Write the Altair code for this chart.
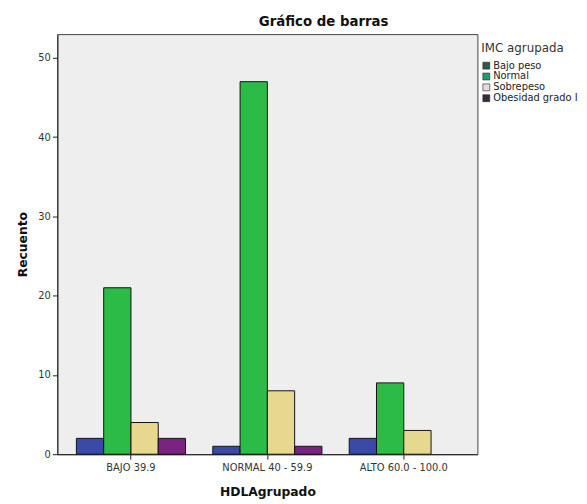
import altair as alt
import pandas as pd

groups = ["BAJO 39.9", "NORMAL 40 - 59.9", "ALTO 60.0 - 100.0"]
imc = ["Bajo peso", "Normal", "Sobrepeso", "Obesidad grado I"]
bajo_counts = [2, 21, 4, 2]
normal_counts = [1, 47, 8, 1]
alto_counts = [2, 9, 3, 0]
bar_colors = ["#3b4aa8", "#2dbb48", "#e6d98f", "#7a2383"]
legend_colors = ["#2f5a48", "#1aa070", "#e2dbe2", "#3a2a3a"]
y_ticks = [0, 10, 20, 30, 40, 50]

rows = []
for g, counts in zip(groups, [bajo_counts, normal_counts, alto_counts]):
    for cat, c in zip(imc, counts):
        if c > 0:
            rows.append({"HDL": g, "IMC": cat, "Recuento": c})
df = pd.DataFrame(rows)

FONT = "DejaVu Sans"

x_enc = alt.X(
    "HDL:N",
    sort=groups,
    scale=alt.Scale(domain=groups, paddingInner=0.2, paddingOuter=0.14),
    axis=alt.Axis(title="HDLAgrupado", labelAngle=0, labelPadding=4, titlePadding=13),
)
y_enc = alt.Y(
    "Recuento:Q",
    scale=alt.Scale(domain=[0, 53], nice=False),
    axis=alt.Axis(title="Recuento", values=y_ticks, labelPadding=2, titlePadding=9),
)

bars = alt.Chart(df).mark_bar(stroke="#111", strokeWidth=1).encode(
    x=x_enc,
    xOffset=alt.XOffset("IMC:N", sort=imc,
                        scale=alt.Scale(domain=imc, paddingInner=0, paddingOuter=0)),
    y=y_enc,
    color=alt.Color("IMC:N", scale=alt.Scale(domain=imc, range=bar_colors), legend=None),
)

legend_layer = alt.Chart(df).mark_square(size=0, opacity=1).encode(
    x=x_enc,
    y=y_enc,
    color=alt.Color(
        "IMC:N",
        scale=alt.Scale(domain=imc, range=legend_colors),
        legend=alt.Legend(
            title="IMC agrupada",
            orient="none",
            legendX=430,
            legendY=9,
            padding=0,
            titleFont=FONT,
            titleFontSize=12,
            titleFontWeight="normal",
            titleColor="#333",
            titlePadding=6,
            labelFont=FONT,
            labelFontSize=10,
            labelColor="#222",
            labelOffset=2,
            labelLimit=120,
            symbolType="square",
            symbolSize=49,
            symbolOpacity=1,
            symbolStrokeColor="#222",
            symbolStrokeWidth=0.6,
            rowPadding=1,
        ),
    ),
)

chart = (
    alt.layer(bars, legend_layer)
    .resolve_scale(color="independent")
    .properties(
        width=426,
        height=426,
        title=alt.TitleParams(
            "Gráfico de barras", font=FONT, fontSize=13.5, fontWeight="bold",
            color="#111", anchor="middle", dx=57, offset=6,
        ),
        autosize=alt.AutoSizeParams(type="none"),
        padding={"left": 50, "top": 23, "right": 103, "bottom": 47},
    )
    .configure_view(fill="#eeeeee", stroke="#444", strokeWidth=1)
    .configure_axis(
        labelFont=FONT, labelFontSize=10, labelColor="#333",
        titleFont=FONT, titleFontSize=12.5, titleFontWeight="bold", titleColor="#111",
        tickColor="#222", domainColor="#222", tickSize=5, grid=False,
    )
)

chart.save("out.html", embed_options={"renderer": "svg", "actions": False})
